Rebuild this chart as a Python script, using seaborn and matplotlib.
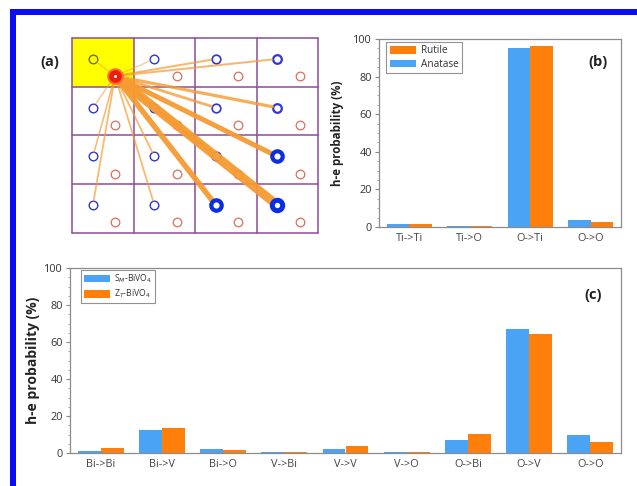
import numpy as np
import pandas as pd
import matplotlib
matplotlib.use("Agg")
import matplotlib.pyplot as plt
import seaborn as sns
from matplotlib.patches import Rectangle
from matplotlib.ticker import MultipleLocator

# Hole -> electron pair probabilities (%) in TiO2 polymorphs
tio2_pairs = ["Ti->Ti", "Ti->O", "O->Ti", "O->O"]
anatase = [1.5, 0.3, 95.3, 3.8]
rutile = [1.6, 0.3, 96.5, 2.8]

# Hole -> electron pair probabilities (%) in BiVO4 polymorphs
bivo4_pairs = ["Bi->Bi", "Bi->V", "Bi->O", "V->Bi", "V->V",
               "V->O", "O->Bi", "O->V", "O->O"]
sm_bivo4 = [1.2, 12.3, 2.1, 0.3, 2.1, 0.3, 7.1, 66.8, 10.0]
zt_bivo4 = [2.7, 13.4, 1.6, 0.8, 3.9, 0.3, 10.5, 64.1, 6.1]

# Lattice sketch: 4x4 cells, hop strength from the source site to each blue site
cell_row = [0, 0, 0, 0, 1, 1, 1, 1, 2, 2, 2, 2, 3, 3, 3, 3]
cell_col = [0, 1, 2, 3, 0, 1, 2, 3, 0, 1, 2, 3, 0, 1, 2, 3]
hop_width = [1.0, 1.0, 2.0, 2.0, 1.2, 2.0, 2.8, 3.2, 1.6, 1.8, 4.0, 5.0,
             1.8, 1.8, 5.5, 9.0]
ring_width = [1.0, 1.0, 1.2, 1.6, 1.0, 1.0, 1.2, 1.6, 1.0, 1.0, 1.2, 3.0,
              1.0, 1.0, 3.0, 3.6]

BLUE = "#4ba3f6"
ORANGE = "#ff7f0a"
W, H = 637, 486

sns.set_theme(style="white")
plt.rcParams["font.family"] = ["Open Sans", "DejaVu Sans"]

fig = plt.figure(figsize=(W / 100, H / 100), dpi=100)
fig.patch.set_facecolor("white")

# blue frame along the left and top edges
fig.add_artist(Rectangle((10 / W, 0), 6 / W, (H - 10) / H,
                         transform=fig.transFigure, color="#0b0bf5", lw=0))
fig.add_artist(Rectangle((10 / W, 1 - 15 / H), (W - 10) / W, 6 / H,
                         transform=fig.transFigure, color="#0b0bf5", lw=0))


def bar_panel(ax, cats, names, values, colors, label_fs, label_x):
    df = pd.DataFrame({
        "pair": cats * len(names),
        "series": [n for n in names for _ in cats],
        "value": [v for vals in values for v in vals],
    })
    sns.barplot(data=df, x="pair", y="value", hue="series", order=cats,
                hue_order=names, palette=colors, width=0.75, saturation=1,
                errorbar=None, linewidth=0, ax=ax)
    ax.set_xlim(-0.5, len(cats) - 0.5)
    ax.set_ylim(0, 100)
    ax.yaxis.set_major_locator(MultipleLocator(20))
    ax.yaxis.set_minor_locator(MultipleLocator(5))
    ax.tick_params(axis="y", which="major", left=True, length=3, width=0.8,
                   color="#888888", labelsize=7.8, labelcolor="#333333", pad=2)
    ax.tick_params(axis="y", which="minor", left=True, length=1.6, width=0.6,
                   color="#999999")
    ax.tick_params(axis="x", length=0, labelsize=7.8, labelcolor="#444444",
                   pad=4)
    for s in ax.spines.values():
        s.set_color("#8c8c8c")
        s.set_linewidth(0.9)
    ax.set_xlabel("")
    ax.set_ylabel("h-e probability (%)", fontweight="bold",
                  fontsize=label_fs, color="#222222")
    ax.yaxis.set_label_coords(label_x, 0.5)


# ---- (b) TiO2 ----
axb = fig.add_axes([379 / W, 1 - 227 / H, 242 / W, 188 / H])
bar_panel(axb, tio2_pairs, ["Anatase", "Rutile"], [anatase, rutile],
          [BLUE, ORANGE], 8.3, -0.145)
hb, lb = axb.get_legend_handles_labels()
axb.legend(hb[::-1], lb[::-1], loc="upper left", bbox_to_anchor=(0.03, 0.985),
           fontsize=7.2, frameon=True, fancybox=False, edgecolor="#777777",
           handlelength=2.6, handleheight=0.8, borderpad=0.35,
           labelspacing=0.25, handletextpad=0.5, borderaxespad=0.0,
           labelcolor="#333333")
axb.get_legend().get_frame().set_linewidth(0.8)
axb.text(0.905, 0.875, "(b)", transform=axb.transAxes, fontsize=10.5,
         fontweight="bold", ha="center", va="center", color="#222222")

# ---- (c) BiVO4 ----
axc = fig.add_axes([70 / W, 1 - 453 / H, 551 / W, 185 / H])
bar_panel(axc, bivo4_pairs, ["S$_M$-BiVO$_4$", "Z$_T$-BiVO$_4$"],
          [sm_bivo4, zt_bivo4], [BLUE, ORANGE], 10, -0.055)
hc, lc = axc.get_legend_handles_labels()
axc.legend(hc, lc, loc="upper left", bbox_to_anchor=(0.02, 0.99),
           fontsize=6.2, frameon=True, fancybox=False, edgecolor="#777777",
           handlelength=3.0, handleheight=0.9, borderpad=0.35,
           labelspacing=0.3, handletextpad=0.5, borderaxespad=0.0,
           labelcolor="#333333")
axc.get_legend().get_frame().set_linewidth(0.8)
axc.text(0.95, 0.855, "(c)", transform=axc.transAxes, fontsize=10.5,
         fontweight="bold", ha="center", va="center", color="#222222")

# ---- (a) lattice sketch ----
axa = fig.add_axes([72 / W, 1 - 233 / H, 246 / W, 195 / H])
axa.set_xlim(0, 4)
axa.set_ylim(4, 0)
axa.axis("off")
axa.add_patch(Rectangle((0, 0), 1, 1, facecolor="#ffff00", edgecolor="none",
                        zorder=0))
for k in range(5):
    axa.axhline(k, color="#8d4c9b", lw=1.1, clip_on=False, zorder=1)
    axa.axvline(k, color="#8d4c9b", lw=1.1, clip_on=False, zorder=1)

blue_dx, blue_dy = 0.34, 0.43
red_dx, red_dy = 0.70, 0.78
src = (red_dx, red_dy)

for r, c, lw, rw in zip(cell_row, cell_col, hop_width, ring_width):
    bx, by = c + blue_dx, r + blue_dy
    ring_col = "#6f6f2c" if (r, c) == (0, 0) else "#2f35d6"
    if rw > 2:
        axa.plot(bx, by, "o", ms=7.5, mfc="white", mec="#0a2ee0", mew=rw,
                 zorder=6)
    else:
        axa.plot(bx, by, "o", ms=6.2, mfc="none", mec=ring_col, mew=rw,
                 zorder=2)
    if (r, c) != (0, 0):
        axa.plot(c + red_dx, r + red_dy, "o", ms=6.2, mfc="none",
                 mec="#d9705e", mew=0.9, zorder=2)
    # thinner hops are drawn paler
    alpha = min(0.95, 0.55 + 0.08 * lw)
    axa.annotate("", xy=(bx, by), xytext=src,
                 arrowprops=dict(arrowstyle="-", lw=lw * 0.72,
                                 color="#f59b32", alpha=alpha,
                                 shrinkA=0, shrinkB=3 + rw * 0.4),
                 zorder=3)

axa.plot(*src, "o", ms=10.5, mfc="#f01c0c", mec="#ff6a3a", mew=1.4, zorder=7)
axa.plot(*src, "o", ms=2.2, mfc="white", mec="white", mew=0, zorder=8)

fig.text(50 / W, 1 - 62 / H, "(a)", fontsize=10.5, fontweight="bold",
         ha="center", va="center", color="#222222")

fig.savefig("out.png", dpi=100, facecolor="white")
